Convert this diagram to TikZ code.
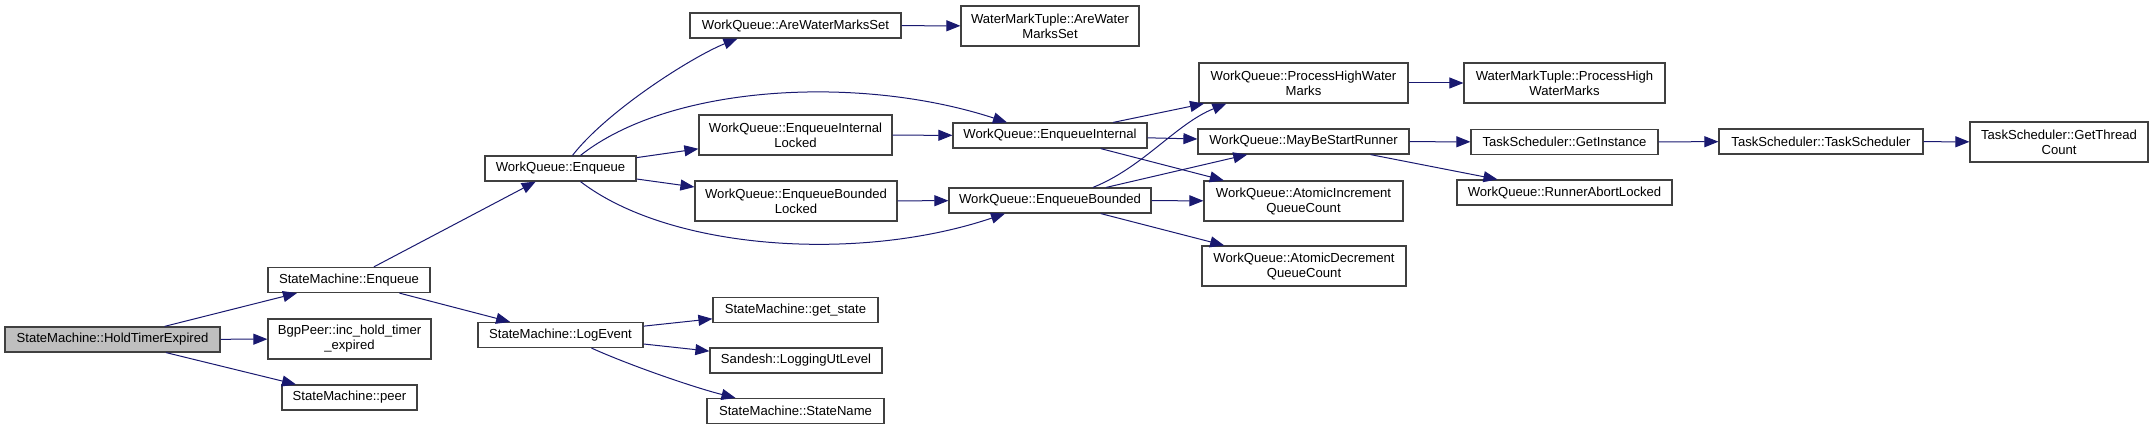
\documentclass[tikz,border=0pt]{standalone}
\usepackage{fontspec}
\usepackage{tikz}
\usetikzlibrary{arrows.meta}
\newfontfamily\graphfont{Liberation Sans}
\definecolor{CallEdge}{HTML}{191970}
\definecolor{BoxLine}{HTML}{404040}
\definecolor{RootFill}{HTML}{BFBFBF}
\tikzset{
  callgraph/.style={x=1pt,y=-1pt,font=\graphfont\fontsize{13.1}{15}\selectfont},
  fnbox/.style={draw=BoxLine,line width=1.2pt,fill=white,align=center,inner sep=0pt,minimum height=25pt},
  fnboxtwo/.style={fnbox,minimum height=40pt},
  rootbox/.style={fnbox,fill=RootFill},
  call/.style={-{Triangle[length=14pt,width=11pt]},line width=1pt,draw=CallEdge},
}

\begin{document}
\begin{tikzpicture}[callgraph]
  \useasboundingbox (0,0) rectangle (2153,430);

  \node[rootbox,minimum width=215pt] (hte) at (112.5,339.5) {StateMachine::HoldTimerExpired};

  \node[fnbox,minimum width=162pt] (smenq) at (349,280) {StateMachine::Enqueue};
  \node[fnboxtwo,minimum width=163pt] (bgp) at (349.5,339) {BgpPeer::inc\_hold\_timer\\\_expired};
  \node[fnbox,minimum width=135pt] (peer) at (349.5,397.5) {StateMachine::peer};

  \node[fnbox,minimum width=151pt] (wqenq) at (560.5,168.5) {WorkQueue::Enqueue};
  \node[fnbox,minimum width=165pt] (logev) at (560.5,335) {StateMachine::LogEvent};

  \node[fnbox,minimum width=211pt] (awms) at (795.5,25.5) {WorkQueue::AreWaterMarksSet};
  \node[fnboxtwo,minimum width=193pt] (eil) at (795.5,135) {WorkQueue::EnqueueInternal\\Locked};
  \node[fnboxtwo,minimum width=202pt] (ebl) at (796,201) {WorkQueue::EnqueueBounded\\Locked};
  \node[fnbox,minimum width=165pt] (getst) at (795.5,310) {StateMachine::get\_state};
  \node[fnbox,minimum width=172pt] (logut) at (796,360.5) {Sandesh::LoggingUtLevel};
  \node[fnbox,minimum width=177pt] (stname) at (795.5,411) {StateMachine::StateName};

  \node[fnboxtwo,minimum width=178pt] (wmtawms) at (1050,26) {WaterMarkTuple::AreWater\\MarksSet};
  \node[fnbox,minimum width=194pt] (ei) at (1050,135.5) {WorkQueue::EnqueueInternal};
  \node[fnbox,minimum width=202pt] (eb) at (1050,200.5) {WorkQueue::EnqueueBounded};

  \node[fnboxtwo,minimum width=209pt] (phwm) at (1303.5,83) {WorkQueue::ProcessHighWater\\Marks};
  \node[fnbox,minimum width=211pt] (mbsr) at (1303.5,141.5) {WorkQueue::MayBeStartRunner};
  \node[fnboxtwo,minimum width=199pt] (aiqc) at (1303.5,201) {WorkQueue::AtomicIncrement\\QueueCount};
  \node[fnboxtwo,minimum width=204pt] (adqc) at (1304,266) {WorkQueue::AtomicDecrement\\QueueCount};

  \node[fnboxtwo,minimum width=201pt] (wmtphwm) at (1564.5,83) {WaterMarkTuple::ProcessHigh\\WaterMarks};
  \node[fnbox,minimum width=187pt] (gi) at (1564.5,142) {TaskScheduler::GetInstance};
  \node[fnbox,minimum width=215pt] (ral) at (1564.5,192.5) {WorkQueue::RunnerAbortLocked};

  \node[fnbox,minimum width=204pt] (ts) at (1821,141.5) {TaskScheduler::TaskScheduler};
  \node[fnboxtwo,minimum width=178pt] (gtc) at (2059,142) {TaskScheduler::GetThread\\Count};

  \draw[call] (hte) -- (smenq);
  \draw[call] (hte) -- (bgp);
  \draw[call] (hte) -- (peer);
  \draw[call] (smenq) -- (wqenq);
  \draw[call] (smenq) -- (logev);
  \draw[call] ([xshift=12pt]wqenq.north) .. controls +(35,-45) and +(-45,18) .. ([xshift=-58pt]awms.south);
  \draw[call] ([xshift=20pt]wqenq.north) .. controls +(90,-71) and +(-147,-48) .. ([xshift=-43pt]ei.north);
  \draw[call] (wqenq) -- (eil);
  \draw[call] (wqenq) -- (ebl);
  \draw[call] ([xshift=20pt]wqenq.south) .. controls +(90,69) and +(-145,49) .. ([xshift=-45pt]eb.south);
  \draw[call] (awms) -- (wmtawms);
  \draw[call] (eil) -- (ei);
  \draw[call] (ebl) -- (eb);
  \draw[call] (ei) -- (phwm);
  \draw[call] (ei) -- (mbsr);
  \draw[call] (ei) -- (aiqc);
  \draw[call] ([xshift=43pt]eb.north) .. controls +(50,-20) and +(-50,20) .. ([xshift=28pt]phwm.south west);
  \draw[call] (eb) -- (mbsr);
  \draw[call] (eb) -- (aiqc);
  \draw[call] (eb) -- (adqc);
  \draw[call] (phwm) -- (wmtphwm);
  \draw[call] (mbsr) -- (gi);
  \draw[call] (mbsr) -- (ral);
  \draw[call] (gi) -- (ts);
  \draw[call] (ts) -- (gtc);
  \draw[call] (logev) -- (getst);
  \draw[call] (logev) -- (logut);
  \draw[call] ([xshift=31pt]logev.south) .. controls +(40,18) and +(-40,-10) .. ([xshift=-60pt]stname.north);
\end{tikzpicture}
\end{document}
